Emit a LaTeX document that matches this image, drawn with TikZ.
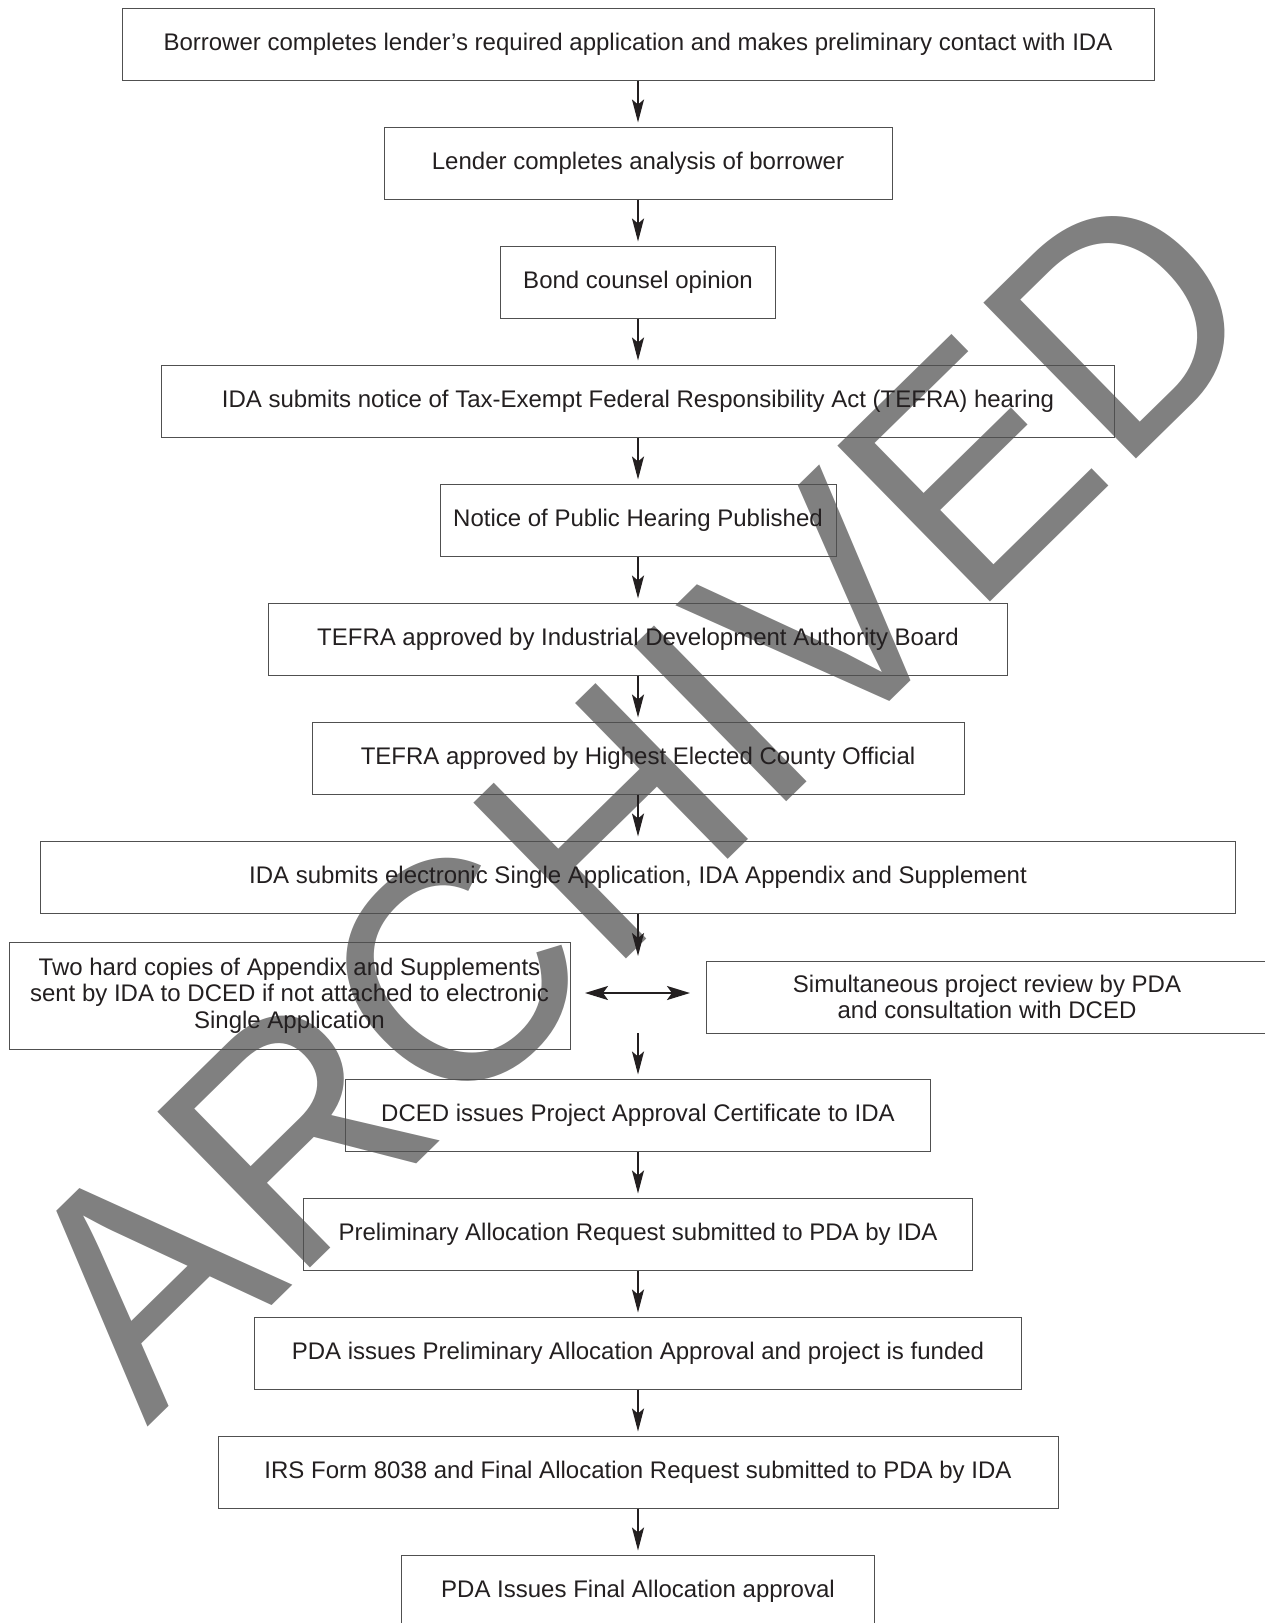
\documentclass[tikz,border=0pt]{standalone}
\usepackage{fontspec}
\setmainfont{Liberation Sans}
\usetikzlibrary{arrows.meta}
\definecolor{ink}{HTML}{231F20}
\definecolor{frame}{HTML}{505050}
\definecolor{wmgray}{HTML}{808080}
\begin{document}
\begin{tikzpicture}[x=1pt,y=-1pt,
  box/.style={draw=frame,line width=1pt,inner sep=0pt,minimum height=72pt,align=center,
    text=ink,font=\fontsize{24}{26.5}\selectfont},
  arr/.style={draw=ink,line width=2pt,-{Stealth[length=23pt,width=12pt,inset=5pt]},shorten >=4pt},
  dbl/.style={draw=ink,line width=2pt,{Stealth[length=23pt,width=14pt,inset=5pt]}-{Stealth[length=23pt,width=14pt,inset=5pt]}},
  wm/.style={text=wmgray,inner sep=0pt,anchor=base west,rotate=44.4,font=\fontsize{317}{317}\selectfont}]
\useasboundingbox (0,0) rectangle (1265,1623);
\node[wm] (wm) at (147,1428) {\scalebox{0.965}[1]{ARCHIVED}};
\node[box,minimum width=1032pt] (b1) at (638,44) {Borrower completes lender’s required application and makes preliminary contact with IDA};
\node[box,minimum width=508pt] (b2) at (638,163) {Lender completes analysis of borrower};
\node[box,minimum width=275pt] (b3) at (638,282) {Bond counsel opinion};
\node[box,minimum width=953pt] (b4) at (638,401) {IDA submits notice of Tax-Exempt Federal Responsibility Act (TEFRA) hearing};
\node[box,minimum width=396pt] (b5) at (638,520) {Notice of Public Hearing Published};
\node[box,minimum width=739pt] (b6) at (638,639) {TEFRA approved by Industrial Development Authority Board};
\node[box,minimum width=652pt] (b7) at (638,758) {TEFRA approved by Highest Elected County Official};
\node[box,minimum width=1195pt] (b8) at (638,877) {IDA submits electronic Single Application, IDA Appendix and Supplement};
\node[box,minimum width=561pt,minimum height=107pt] (b9) at (289.5,995.5) {Two hard copies of Appendix and Supplements\\sent by IDA to DCED if not attached to electronic\\Single Application};
\node[box,minimum width=562pt] (b10) at (987,997) {Simultaneous project review by PDA\\and consultation with DCED};
\node[box,minimum width=585pt] (b11) at (638,1115) {DCED issues Project Approval Certificate to IDA};
\node[box,minimum width=669pt] (b12) at (638,1234) {Preliminary Allocation Request submitted to PDA by IDA};
\node[box,minimum width=767pt] (b13) at (638,1353) {PDA issues Preliminary Allocation Approval and project is funded};
\node[box,minimum width=840pt] (b14) at (638,1472) {IRS Form 8038 and Final Allocation Request submitted to PDA by IDA};
\node[box,minimum width=473pt] (b15) at (638,1591) {PDA Issues Final Allocation approval};
\coordinate (m1) at (638,960);
\coordinate (m2) at (638,1033);
\coordinate (dl) at (585,993);
\coordinate (dr) at (690,993);
\draw[arr] (b1) -- (b2);
\draw[arr] (b2) -- (b3);
\draw[arr] (b3) -- (b4);
\draw[arr] (b4) -- (b5);
\draw[arr] (b5) -- (b6);
\draw[arr] (b6) -- (b7);
\draw[arr] (b7) -- (b8);
\draw[arr] (b8) -- (m1);
\draw[arr] (m2) -- (b11);
\draw[arr] (b11) -- (b12);
\draw[arr] (b12) -- (b13);
\draw[arr] (b13) -- (b14);
\draw[arr] (b14) -- (b15);
\draw[dbl] (dl) -- (dr);
\end{tikzpicture}
\end{document}
